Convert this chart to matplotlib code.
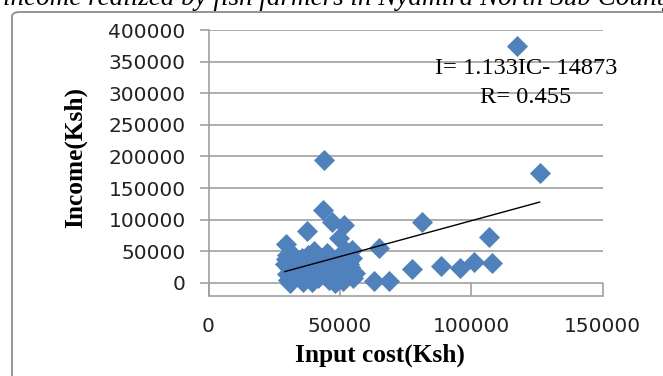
import matplotlib.pyplot as plt
import numpy as np
from matplotlib.patches import FancyBboxPatch

# input cost (Ksh) and income (Ksh) per farmer
input_cost = [
    117200, 126000, 43800, 43600, 47000, 51500, 37500, 49500, 29600, 64800,
    81400, 106800, 77600, 88400, 95700, 101100, 107700, 62900, 68600, 55900,
    54700, 30000, 29500, 29000, 30500, 29800, 30200, 31000, 33000, 34000,
    35000, 35500, 36000, 37000, 38000, 38500, 39000, 39500, 40000, 41000,
    42000, 43000, 44000, 45000, 45500, 46000, 47000, 47500, 48000, 49000,
    49500, 50000, 50500, 51000, 52000, 52500, 53000, 54000, 54500, 55000,
    32500, 36500, 41500, 44500, 51500, 53500,
]
income = [
    375000, 173600, 194600, 115500, 97000, 91800, 82800, 70700, 61200, 54900,
    97000, 72300, 21700, 26900, 23200, 33700, 32100, 3600, 3600, 15300,
    52000, 45000, 38000, 30000, 24000, 14000, 5000, 0, 20000, 35000,
    10000, 40000, 2000, 28000, 45000, 15000, 5000, 1000, 50000, 33000,
    22000, 40000, 12000, 48000, 30000, 5000, 20000, 38000, 0, 10000,
    28000, 45000, 18000, 3000, 35000, 50000, 12000, 25000, 40000, 8000,
    42000, 22000, 8000, 25000, 22000, 30000,
]
slope, intercept = 1.133, -14873
x_ticks = [0, 50000, 100000, 150000]
y_ticks = list(range(0, 400001, 50000))

W, H = 663, 376
fig = plt.figure(figsize=(W / 100, H / 100), dpi=100)

# chart border (runs off the right and bottom edges)
fig.patches.append(FancyBboxPatch(
    (12 / W, 1 - 400 / H), 700 / W, 388 / H,
    boxstyle="round,pad=0,rounding_size=0.012", transform=fig.transFigure,
    fill=False, ec="#8c8c8c", lw=1.3, clip_on=False))

fig.text(3 / W, 1 - 5 / H,
         "income realized by fish farmers in Nyamira North Sub County",
         family="Liberation Serif", style="italic", fontsize=19.5,
         va="baseline", ha="left")

ax = fig.add_axes([208.5 / W, 1 - 296 / H, 394.2 / W, 266 / H])
ax.scatter(input_cost, income, marker="D", s=115, color="#4f81bd",
           linewidths=0, zorder=3)

xs = np.array([min(input_cost), max(input_cost)])
ax.plot(xs, slope * xs + intercept, color="black", lw=1.0, zorder=4)

ax.set_xlim(0, 150000)
ax.set_ylim(-20570, 400000)
ax.set_xticks(x_ticks)
ax.set_yticks(y_ticks)
ax.set_xticklabels([str(v) for v in x_ticks])
ax.set_yticklabels([str(v) for v in y_ticks])
ax.grid(axis="y", color="#a0a0a0", lw=1.2)
ax.set_axisbelow(True)
for side in ["top", "right"]:
    ax.spines[side].set_visible(False)
for side in ["left", "bottom"]:
    ax.spines[side].set_color("#a0a0a0")
    ax.spines[side].set_linewidth(1.2)
ax.tick_params(axis="y", direction="out", length=6.5, width=1.2,
               color="#a0a0a0", pad=10, labelsize=14.5, labelcolor="#222222")
ax.tick_params(axis="x", direction="in", length=9.4, width=1.2,
               color="#a0a0a0", pad=15, labelsize=14.5, labelcolor="#222222")

fig.text(526 / W, 1 - 74 / H, "I= 1.133IC- 14873", family="Liberation Serif",
         fontsize=17.6, ha="center", va="baseline")
fig.text(526 / W, 1 - 102.7 / H, "R= 0.455", family="Liberation Serif",
         fontsize=17.6, ha="center", va="baseline")

fig.text(75 / W, 1 - 158 / H, "Income(Ksh)", family="Liberation Serif",
         weight="bold", fontsize=18.3, rotation=90, ha="center", va="center")
fig.text(380 / W, 1 - 355 / H, "Input cost(Ksh)", family="Liberation Serif",
         weight="bold", fontsize=18.3, ha="center", va="center")

fig.savefig("out.png", dpi=100)
